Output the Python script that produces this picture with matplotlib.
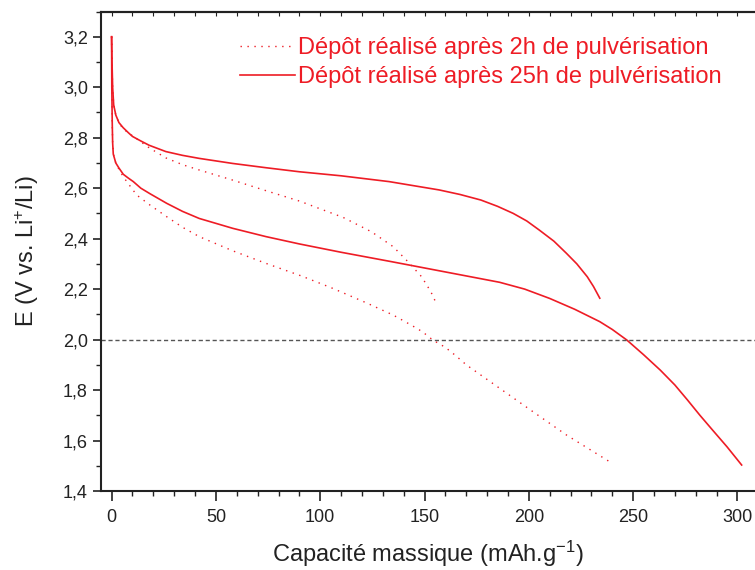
import matplotlib
matplotlib.use("Agg")
import matplotlib.pyplot as plt
from matplotlib.ticker import MultipleLocator, FuncFormatter
from matplotlib.lines import Line2D

plt.rcParams['font.family'] = ['Liberation Sans', 'DejaVu Sans']
plt.rcParams['mathtext.fontset'] = 'custom'
plt.rcParams['mathtext.rm'] = 'Liberation Sans'
plt.rcParams['mathtext.it'] = 'Liberation Sans:italic'

# 25h deposit, first curve (upper solid)
x_25h_a = [0, 0.2, 0.5, 1, 2, 3.5, 5.5, 8, 10, 14, 18, 26, 34, 42, 58, 74, 90,
           110, 133, 157, 167, 177, 185, 192.5, 199, 205, 212, 218, 223, 228,
           231, 234]
y_25h_a = [3.2, 3.1, 3.0, 2.93, 2.89, 2.86, 2.84, 2.82, 2.805, 2.787, 2.77,
           2.745, 2.73, 2.718, 2.698, 2.681, 2.665, 2.649, 2.626, 2.593, 2.575,
           2.553, 2.528, 2.50, 2.47, 2.434, 2.39, 2.342, 2.30, 2.249, 2.21, 2.164]

# 25h deposit, second curve (lower solid)
x_25h_b = [0, 0.1, 0.3, 0.5, 0.8, 2, 3.5, 5.6, 8, 10.4, 14, 18.4, 26.4, 34, 42,
           58, 74, 90, 110, 134, 160, 186, 198, 210, 222, 234, 240, 247, 255, 263,
           270, 276, 282, 288, 295, 302]
y_25h_b = [3.2, 3.0, 2.86, 2.78, 2.735, 2.70, 2.68, 2.655, 2.64, 2.626, 2.60,
           2.578, 2.54, 2.508, 2.48, 2.441, 2.408, 2.379, 2.346, 2.309, 2.268,
           2.227, 2.20, 2.163, 2.12, 2.071, 2.04, 1.998, 1.94, 1.879, 1.82, 1.761,
           1.70, 1.642, 1.575, 1.503]

# 2h deposit, first curve (upper dotted)
x_2h_a = [0, 0.2, 0.5, 1, 2, 3.5, 5.5, 9.6, 18, 26, 34, 42, 58, 74, 90, 111,
          124.6, 135, 142, 148.6, 153, 156]
y_2h_a = [3.2, 3.1, 3.0, 2.93, 2.89, 2.86, 2.835, 2.81, 2.76, 2.72, 2.693,
          2.672, 2.632, 2.59, 2.549, 2.484, 2.427, 2.368, 2.309, 2.249, 2.19, 2.137]

# 2h deposit, second curve (lower dotted)
x_2h_b = [0, 0.1, 0.3, 0.5, 1, 2, 3.5, 5.6, 12, 18.4, 26.4, 34, 42, 58, 74, 91,
          106, 122, 135, 143.5, 149, 154, 160, 165, 170, 186, 202, 218, 239.5]
y_2h_b = [3.2, 3.0, 2.86, 2.78, 2.73, 2.70, 2.675, 2.645, 2.573, 2.533, 2.487,
          2.445, 2.408, 2.352, 2.302, 2.252, 2.203, 2.146, 2.097, 2.058, 2.031,
          1.998, 1.969, 1.936, 1.90, 1.807, 1.714, 1.622, 1.512]

labels = ["Dépôt réalisé après 2h de pulvérisation",
          "Dépôt réalisé après 25h de pulvérisation"]

red = '#ee1c25'
dot = (0, (1, 4))

fig = plt.figure(figsize=(7.55, 5.70), dpi=100)
ax = fig.add_axes([0.134, 0.1386, 0.866, 0.8412])

ax.plot(x_2h_a, y_2h_a, color=red, lw=1.0, linestyle=dot)
ax.plot(x_2h_b, y_2h_b, color=red, lw=1.0, linestyle=dot)
ax.plot(x_25h_a, y_25h_a, color=red, lw=1.2)
ax.plot(x_25h_b, y_25h_b, color=red, lw=1.2)
ax.axhline(2.0, color='#555555', lw=1.0, linestyle=(0, (3, 2)))

ax.set_xlim(-5, 308.4)
ax.set_ylim(1.4, 3.3)

ax.xaxis.set_major_locator(MultipleLocator(50))
ax.xaxis.set_minor_locator(MultipleLocator(10))
ax.yaxis.set_major_locator(MultipleLocator(0.2))
ax.yaxis.set_minor_locator(MultipleLocator(0.1))
ax.yaxis.set_major_formatter(FuncFormatter(lambda v, p: f"{v:.1f}".replace('.', ',')))

ax.tick_params(which='major', direction='out', length=6, width=1.2, labelsize=13,
               colors='#222222')
ax.tick_params(which='minor', direction='out', length=3.5, width=1.0, colors='#222222')
ax.tick_params(axis='x', which='major', length=7, pad=6)

for s in ['left', 'bottom', 'top']:
    ax.spines[s].set_linewidth(1.5)
    ax.spines[s].set_color('#222222')
ax.spines['right'].set_visible(False)

top = ax.secondary_xaxis('top')
top.xaxis.set_major_locator(MultipleLocator(50))
top.xaxis.set_minor_locator(MultipleLocator(10))
top.tick_params(which='both', direction='in', length=3, width=0.8, labeltop=False,
                colors='#222222')
top.spines['top'].set_linewidth(1.5)

ax.set_xlabel("Capacité massique (mAh.g$^{-1}$)", fontsize=17, labelpad=9,
              color='#222222')
ax.set_ylabel("E (V vs. Li$^{+}$/Li)", fontsize=17, labelpad=16, color='#222222')

handles = [Line2D([], [], color=red, lw=1.0, linestyle=dot),
           Line2D([], [], color=red, lw=1.2)]
ax.legend(handles, labels, loc='upper left', bbox_to_anchor=(0.2125, 0.946),
          frameon=False, fontsize=17, labelcolor=red, handlelength=2.33,
          handletextpad=0.13, labelspacing=0.29, borderaxespad=0, borderpad=0)

fig.savefig('out.png', dpi=100)
